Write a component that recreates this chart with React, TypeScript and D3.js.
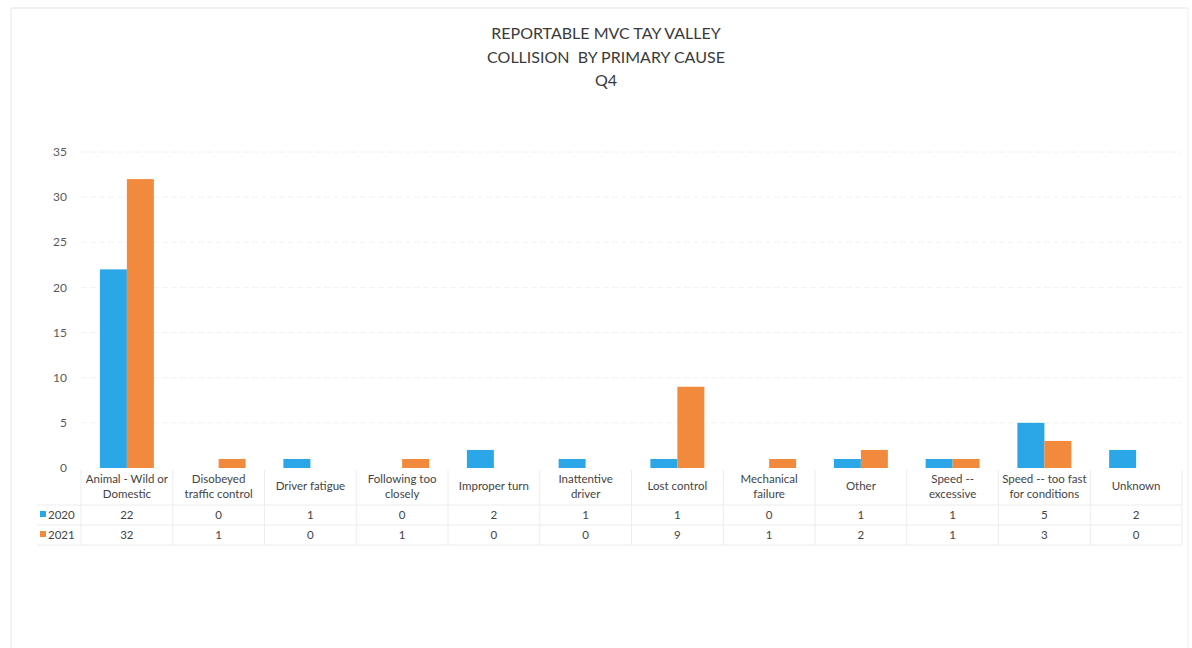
import React from "react";
import * as d3 from "d3";

const titleLines = ["REPORTABLE MVC TAY VALLEY", "COLLISION  BY PRIMARY CAUSE", "Q4"];

const categories = [
  ["Animal - Wild or", "Domestic"],
  ["Disobeyed", "traffic control"],
  ["Driver fatigue"],
  ["Following too", "closely"],
  ["Improper turn"],
  ["Inattentive", "driver"],
  ["Lost control"],
  ["Mechanical", "failure"],
  ["Other"],
  ["Speed --", "excessive"],
  ["Speed -- too fast", "for conditions"],
  ["Unknown"],
];

const seriesNames = ["2020", "2021"];
const values2020 = [22, 0, 1, 0, 2, 1, 1, 0, 1, 1, 5, 2];
const values2021 = [32, 1, 0, 1, 0, 0, 9, 1, 2, 1, 3, 0];
const yTicks = [0, 5, 10, 15, 20, 25, 30, 35];

const colors = ["#2ba6e6", "#f28a3e"];

const W = 1192;
const H = 648;
const plotLeft = 81;
const plotRight = 1182;
const plotTop = 152;
const plotBottom = 468;
const font = "Lato, 'Open Sans', sans-serif";

export default function App() {
  const keys = categories.map((_, i) => String(i));
  const x = d3.scaleBand().domain(keys).range([plotLeft, plotRight]).paddingInner(0).paddingOuter(0);
  const inner = d3
    .scaleBand()
    .domain(seriesNames)
    .range([0, x.bandwidth()])
    .paddingInner(0)
    .paddingOuter(0.7);
  const y = d3.scaleLinear().domain([0, 35]).range([plotBottom, plotTop]);
  const series = [values2020, values2021];

  const row1 = 515;
  const row2 = 535;
  const tableLeft = 37;

  return (
    <div style={{ position: "fixed", left: 0, top: 0 }}>
      <svg width={W} height={H} style={{ display: "block", background: "#fff" }}>
        {/* page frame */}
        <line x1={11} y1={8} x2={1187} y2={8} stroke="#e2e2e2" />
        <line x1={11} y1={8} x2={11} y2={H} stroke="#e6e6e6" />
        <line x1={1188} y1={8} x2={1188} y2={H} stroke="#ececec" />

        {/* title */}
        {titleLines.map((t, i) => (
          <text
            key={t}
            x={606}
            y={39 + i * 23.5}
            textAnchor="middle"
            fontFamily={font}
            fontSize={16}
            fill="#3a3a3a"
            style={{ whiteSpace: "pre" }}
          >
            {t}
          </text>
        ))}

        {/* gridlines and y ticks */}
        {yTicks.map((t) => (
          <g key={t}>
            {t > 0 && (
              <line
                x1={plotLeft}
                x2={plotRight}
                y1={y(t)}
                y2={y(t)}
                stroke="#f2f2f2"
                strokeDasharray="6 3"
              />
            )}
            <text
              x={67}
              y={y(t)}
              dy="0.35em"
              textAnchor="end"
              fontFamily={font}
              fontSize={12}
              fill="#5a5a5a"
            >
              {t}
            </text>
          </g>
        ))}

        {/* bars */}
        {series.map((vals, s) =>
          vals.map((v, i) =>
            v > 0 ? (
              <rect
                key={`${s}-${i}`}
                x={(x(String(i)) as number) + (inner(seriesNames[s]) as number)}
                y={y(v)}
                width={inner.bandwidth()}
                height={y(0) - y(v)}
                fill={colors[s]}
              />
            ) : null
          )
        )}

        {/* data table grid */}
        {[505, 525, 545].map((ly) => (
          <line key={ly} x1={tableLeft} x2={plotRight} y1={ly} y2={ly} stroke="#ececec" />
        ))}
        {keys.map((k) => (
          <line
            key={k}
            x1={x(k) as number}
            x2={x(k) as number}
            y1={470}
            y2={545}
            stroke="#ececec"
          />
        ))}
        <line x1={plotRight} x2={plotRight} y1={470} y2={545} stroke="#ececec" />

        {/* category labels */}
        {categories.map((lines, i) => {
          const cx = (x(String(i)) as number) + x.bandwidth() / 2;
          const startY = lines.length === 2 ? 483 : 490;
          return (
            <text
              key={i}
              x={cx}
              textAnchor="middle"
              fontFamily={font}
              fontSize={11.5}
              fill="#444"
            >
              {lines.map((l, j) => (
                <tspan key={j} x={cx} y={startY + j * 15}>
                  {l}
                </tspan>
              ))}
            </text>
          );
        })}

        {/* table rows */}
        {series.map((vals, s) => {
          const ry = s === 0 ? row1 : row2;
          return (
            <g key={s}>
              <rect x={40} y={ry - 4} width={6} height={6} fill={colors[s]} />
              <text
                x={48}
                y={ry}
                dy="0.35em"
                fontFamily={font}
                fontSize={11.5}
                fill="#444"
              >
                {seriesNames[s]}
              </text>
              {vals.map((v, i) => (
                <text
                  key={i}
                  x={(x(String(i)) as number) + x.bandwidth() / 2}
                  y={ry}
                  dy="0.35em"
                  textAnchor="middle"
                  fontFamily={font}
                  fontSize={11.5}
                  fill="#444"
                >
                  {v}
                </text>
              ))}
            </g>
          );
        })}
      </svg>
    </div>
  );
}
